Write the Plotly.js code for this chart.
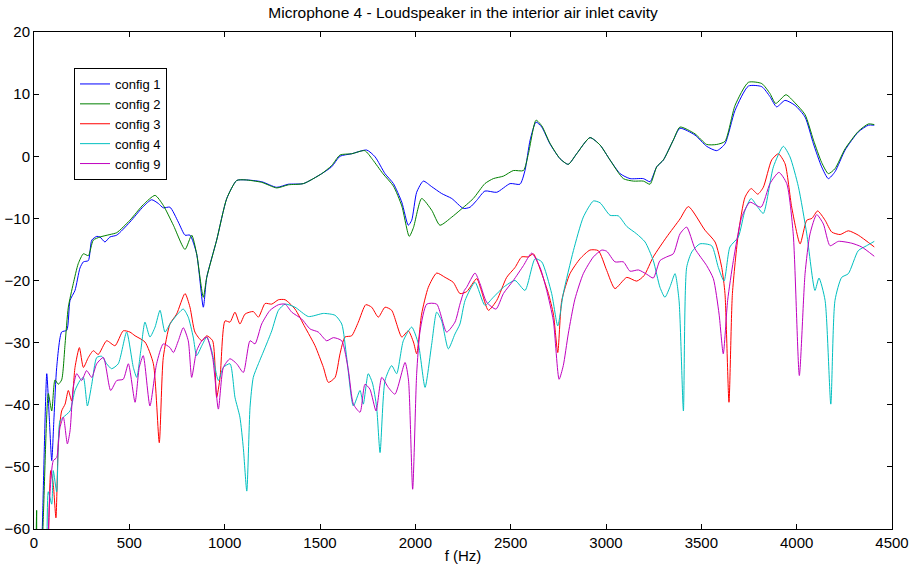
<!DOCTYPE html>
<html>
<head>
<meta charset="utf-8">
<script src="https://cdn.plot.ly/plotly-3.0.1.min.js"></script>
<style>html,body{margin:0;padding:0;background:#fff;}#chart{width:911px;height:568px;}</style>
</head>
<body>
<div id="chart"></div>
<script>
// config 1 (blue)
var f1 = [40,46,67,80,93,105,119,145,172,189,215,241,259,285,303,329,346,372,398,434,503,573,617,652,678,713,757,792,818,853,888,906,958,1011,1063,1107,1194,1273,1334,1413,1509,1561,1605,1666,1745,1789,1841,1885,1929,1963,1981,2007,2042,2086,2138,2191,2252,2287,2322,2365,2427,2497,2549,2575,2602,2633,2663,2706,2759,2802,2846,2916,2969,3021,3074,3126,3196,3231,3266,3301,3353,3388,3467,3528,3581,3624,3677,3747,3817,3860,3895,3939,3991,4044,4088,4131,4166,4201,4254,4323,4376,4407];
var db1 = [-64,-57,-35,-42,-49,-42,-34,-28.3,-28,-23.2,-21.6,-18,-17,-16.8,-13.5,-12.9,-13,-13.8,-13,-12.7,-10.6,-8.1,-7.0,-7.6,-8.3,-8.2,-10.6,-12.7,-12.7,-15.7,-24.3,-19.5,-13.5,-6.8,-3.9,-3.8,-4.1,-5.0,-4.5,-4.4,-2.8,-1.7,0,0.4,1.0,-0.1,-2.8,-4.4,-7.4,-11.1,-10.3,-5.8,-4.0,-4.9,-6.0,-6.8,-8.4,-8.2,-7.1,-5.6,-5.8,-4.4,-4.5,-2.3,2.6,5.5,4.7,2.0,-0.4,-1.3,0.4,3.0,1.8,-0.6,-2.8,-3.6,-3.6,-4.1,-1.7,-0.6,2.6,4.5,3.4,1.6,0.9,2.0,7.4,11.3,11.2,9.6,7.95,9.0,8.2,6.3,2.0,-1.7,-3.6,-2.5,1.0,3.9,5.0,5.0];

// config 2 (green)
var f2 = [10,14,18,42,49,75,93,110,127,145,163,180,206,232,259,285,311,346,398,434,503,573,635,678,731,792,827,853,888,906,958,1011,1063,1107,1194,1273,1334,1413,1509,1561,1605,1666,1735,1775,1830,1885,1929,1968,1990,2033,2086,2129,2191,2234,2304,2365,2409,2462,2514,2567,2593,2633,2663,2706,2759,2802,2846,2916,2969,3021,3091,3144,3196,3231,3266,3301,3353,3388,3467,3528,3581,3624,3677,3747,3817,3860,3890,3944,3991,4044,4088,4131,4166,4201,4254,4323,4376,4407];
var db2 = [-64,-57,-64,-62,-58,-38.2,-41,-36,-36.7,-36,-30.2,-24.3,-20.5,-17.3,-15.7,-16,-13.5,-13,-12.6,-12.3,-10.3,-7.8,-6.3,-7.9,-11.1,-15,-12.7,-15.7,-22.7,-19.5,-13.5,-6.8,-3.9,-3.8,-4.2,-5.1,-4.6,-4.4,-2.8,-1.5,0.2,0.4,0.9,-0.5,-2.8,-4.8,-8.0,-12.9,-11.5,-6.8,-8.7,-11.1,-9.8,-8.7,-6.8,-4.4,-3.6,-3.2,-2.3,-2.3,0.4,5.8,4.9,2.1,-0.4,-1.3,0.4,3.0,1.8,-0.6,-3.6,-4.0,-4.0,-4.5,-1.7,-0.6,2.6,4.7,3.6,1.9,1.9,2.4,8.2,11.9,11.7,10.1,8.5,9.9,8.6,6.7,2.6,-1.0,-2.8,-2.0,1.2,4.0,5.2,5.1];

// config 3 (red)
var f3 = [75,88,101,115,128,145,163,180,198,215,238,259,285,311,337,381,425,468,503,530,582,626,657,678,713,748,792,818,844,880,906,937,958,976,1002,1028,1054,1080,1107,1150,1177,1212,1247,1282,1317,1369,1421,1474,1518,1544,1579,1605,1631,1666,1701,1740,1771,1806,1841,1876,1929,1963,1990,2007,2033,2068,2112,2156,2199,2234,2269,2322,2345,2383,2427,2479,2523,2558,2593,2619,2663,2698,2724,2747,2768,2811,2864,2916,2960,3004,3047,3109,3161,3200,3248,3318,3388,3432,3519,3572,3607,3624,3645,3663,3694,3729,3761,3796,3825,3869,3904,3939,3974,4018,4053,4080,4110,4149,4184,4228,4271,4323,4407];
var db3 = [-64,-50.6,-52.8,-58.2,-45.8,-41,-39.9,-37.7,-39.4,-34,-30.8,-34,-32.4,-31.3,-31.9,-29.7,-30.5,-28.1,-28.3,-28.9,-29.9,-33.4,-46.1,-32.4,-27,-25.4,-22.1,-24.3,-28.3,-29.7,-28.9,-29.7,-38.8,-35.6,-26.5,-26.7,-25.1,-27,-25.4,-25,-25.9,-23.7,-23.8,-23.1,-23.1,-24.6,-27.5,-30.5,-34,-36.4,-35.6,-31.8,-29.1,-28.9,-26.7,-23.9,-24.3,-25.9,-24.3,-24.8,-29.1,-28.1,-29.9,-31.8,-25.4,-21.1,-18.8,-19.5,-20.3,-22.1,-21.8,-19.7,-21.5,-24.8,-23.2,-19.5,-17.9,-16.2,-16.2,-15.7,-18.9,-22.1,-25.4,-31.6,-23.2,-18.9,-16.5,-15.1,-15.2,-18.4,-21.3,-19.5,-20.1,-19.2,-16.2,-13,-10.1,-8.1,-11.9,-13.8,-17.9,-22.1,-39.6,-22.1,-12.5,-6.6,-5.2,-6.1,-5.0,-0.6,0.4,-1.2,-8.2,-14.1,-10.3,-10.0,-8.8,-10.3,-12.2,-12.6,-12.0,-12.7,-14.6];

// config 4 (cyan)
var f4 = [68,75,93,101,119,136,154,189,215,241,259,280,303,329,355,381,407,442,486,521,539,560,582,608,635,661,687,713,748,783,809,835,853,880,906,932,967,993,1028,1054,1080,1098,1116,1133,1150,1177,1212,1247,1282,1317,1369,1439,1518,1579,1614,1640,1675,1710,1727,1753,1775,1797,1815,1841,1876,1902,1937,1981,2016,2051,2086,2112,2138,2173,2208,2234,2261,2313,2365,2409,2462,2523,2575,2628,2663,2715,2747,2776,2829,2881,2934,2969,3021,3065,3109,3161,3205,3248,3283,3309,3336,3362,3383,3406,3423,3450,3493,3554,3589,3619,3650,3694,3729,3761,3796,3825,3878,3930,3965,4009,4053,4096,4117,4149,4179,4201,4236,4271,4323,4367,4407];
var db4 = [-64,-54,-56,-50.6,-54,-42.6,-42,-41,-37.7,-36.1,-35.6,-40.2,-36.7,-32.4,-32.2,-33.4,-34.2,-33.4,-28.3,-34,-35.6,-31.3,-26.7,-29.1,-27.5,-24.8,-28.3,-27,-25.6,-24.6,-25.9,-29.1,-32.1,-30.5,-29.1,-31.3,-36.1,-34,-33.4,-38.8,-42,-47,-53.9,-40.4,-35.6,-33.4,-30.8,-28.1,-24.8,-23.8,-24.3,-25.8,-25.3,-25.6,-27,-32.4,-40.2,-37.7,-39.9,-35,-36.5,-40.4,-47.7,-36.1,-33.7,-35,-29.7,-27.5,-30.2,-37.2,-30.2,-25.1,-26.5,-31,-28.6,-27,-23.2,-20.3,-24,-22.7,-21.1,-20,-21.6,-16.5,-17,-22.1,-27.3,-22.1,-15.2,-9.8,-7.2,-7.5,-9.5,-9.6,-11.3,-12.5,-13.8,-16.8,-21.1,-22.7,-21,-18.9,-23.2,-41,-17.9,-15.4,-14.1,-14.4,-17.9,-20.1,-14.6,-13,-8.7,-6.8,-8.2,-9.2,-1.7,1.6,-0.1,-4.9,-12.5,-21.6,-19.6,-23.2,-39.9,-23.2,-19.5,-18.9,-15.2,-14.4,-13.7];

// config 9 (magenta)
var f9 = [75,84,101,119,136,154,175,189,206,224,250,276,303,329,364,402,434,468,495,530,552,573,608,643,678,713,731,757,783,809,827,853,880,906,937,967,993,1028,1063,1098,1133,1159,1194,1238,1282,1317,1352,1404,1448,1491,1535,1570,1614,1649,1675,1710,1736,1762,1794,1824,1858,1893,1946,1964,1986,2007,2025,2060,2112,2164,2208,2234,2257,2269,2313,2339,2374,2423,2462,2514,2567,2610,2654,2689,2724,2754,2776,2802,2837,2881,2934,2978,3004,3047,3091,3126,3170,3214,3248,3283,3318,3353,3388,3423,3467,3528,3563,3593,3615,3638,3668,3712,3755,3813,3860,3907,3948,3982,4014,4044,4070,4105,4140,4175,4219,4289,4341,4407];
var db9 = [-60.5,-54,-49,-48.5,-43.7,-42,-46.3,-44.2,-37.2,-35,-36.1,-34.5,-35.6,-33.4,-32.4,-37.7,-36.1,-35.9,-33.4,-39.6,-34,-32.1,-40.2,-33.4,-30.2,-30.8,-31.6,-29.7,-27.6,-29.7,-35.6,-31.3,-29.7,-29.1,-32.4,-40.7,-34,-32.6,-33.4,-34.8,-29.7,-30.2,-27,-24.8,-23.9,-23.8,-25.1,-26.2,-27.8,-28.3,-29.7,-29.2,-29.7,-34.5,-39.9,-41.2,-36.7,-37.5,-41,-35.6,-37.2,-38.3,-33.2,-36,-53.6,-35,-28.1,-23.8,-23.8,-28.3,-26.7,-23.8,-21.6,-21.1,-18.8,-20.5,-23.5,-24.6,-22.1,-20,-17.6,-15.6,-17.9,-21.6,-26.5,-35.9,-33.7,-28.6,-23,-18.9,-16.2,-15.1,-15.3,-17,-17,-18.5,-18.3,-19,-19.6,-16.8,-16.2,-15.7,-12.5,-11.4,-14.9,-17.6,-19.7,-25.4,-31.8,-23.2,-16.8,-9.8,-7.4,-8.2,-4.4,-2.6,-4.4,-12.5,-35.3,-18.9,-12.5,-9.4,-10.9,-14.4,-13.7,-14,-14.6,-16.1];

var names = ['config 1','config 2','config 3','config 4','config 9'];
var colors = ['#0000ff','#008000','#ff0000','#00bfbf','#bf00bf'];
var xs = [f1,f2,f3,f4,f9];
var ys = [db1,db2,db3,db4,db9];

var font = 'Liberation Sans, Arial, Helvetica, sans-serif';
var traces = names.map(function(n,i){
  return {x: xs[i], y: ys[i], name: n, type:'scatter', mode:'lines',
          line:{color: colors[i], width:1, shape:'spline', smoothing:0.6}};
});

var axisCommon = {
  showline:true, linecolor:'#000', linewidth:1, mirror:'ticks',
  ticks:'inside', ticklen:5, tickcolor:'#000', tickwidth:1,
  showgrid:false, zeroline:false,
  tickfont:{family:font, size:15, color:'#000'}
};

var layout = {
  width:911, height:568,
  margin:{l:34, r:19, t:32, b:39},
  paper_bgcolor:'#fff', plot_bgcolor:'#fff',
  font:{family:font, size:15, color:'#000'},
  title:{text:'Microphone 4 - Loudspeaker in the interior air inlet cavity',
         font:{family:font, size:15.5, color:'#000'},
         x:0.5, xref:'paper', y:1-13/568, yref:'container', yanchor:'middle'},
  xaxis: Object.assign({}, axisCommon, {
    range:[0,4500], tickmode:'linear', tick0:0, dtick:500,
    title:{text:'f (Hz)', font:{family:font, size:15, color:'#000'}, standoff:0}
  }),
  yaxis: Object.assign({}, axisCommon, {
    range:[-60,20], tickmode:'linear', tick0:-60, dtick:10
  }),
  showlegend:true,
  legend:{x:(74-34)/858, y:(529-68)/497, xanchor:'left', yanchor:'top',
          bordercolor:'#000', borderwidth:1, bgcolor:'#fff',
          font:{family:font, size:13, color:'#000'}, itemwidth:30,
          tracegroupgap:0}
};

Plotly.newPlot('chart', traces, layout, {displayModeBar:false, staticPlot:true});
</script>
</body>
</html>
